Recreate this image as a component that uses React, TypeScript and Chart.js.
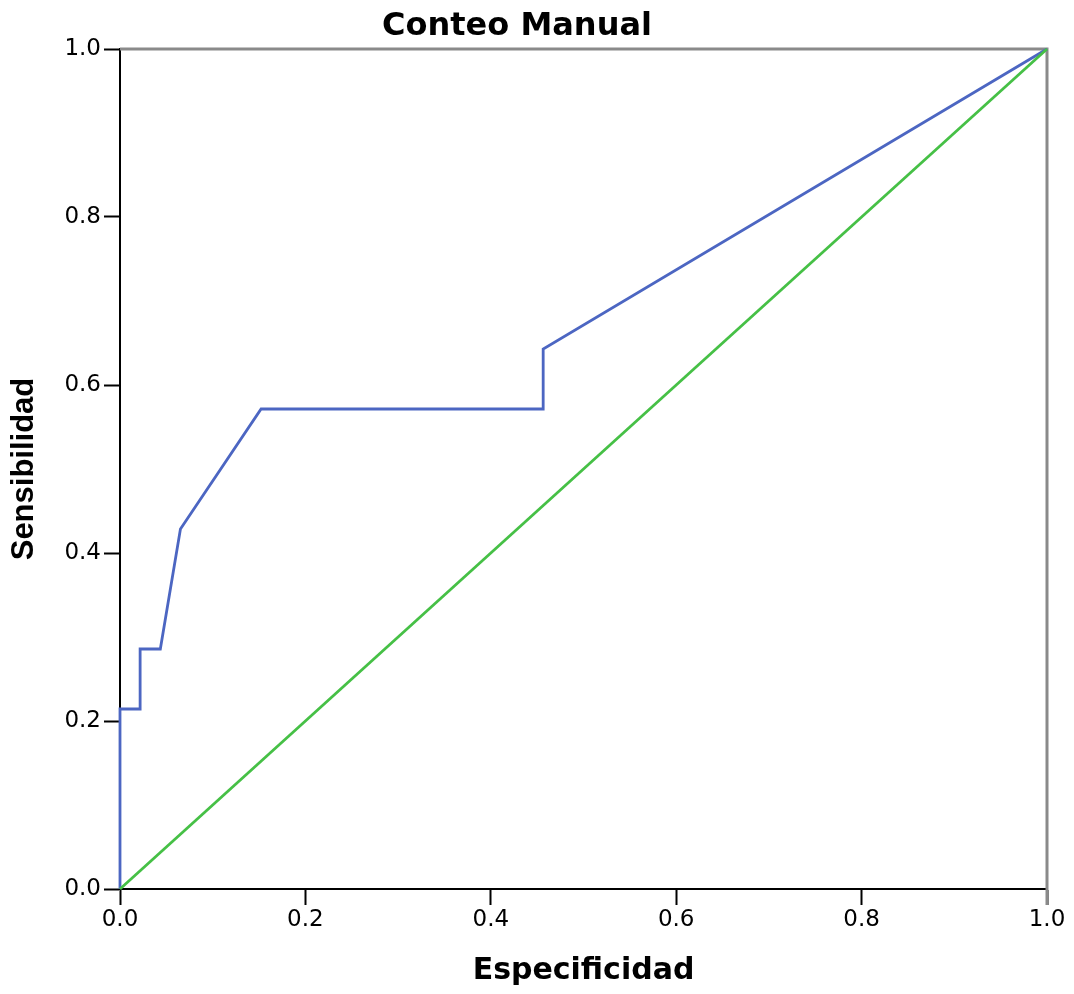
import React, { useEffect, useRef } from "react";
import { Chart, registerables } from "chart.js";

Chart.register(...registerables);

// ROC curve (1 - specificity on x, sensitivity on y)
const rocX = [0, 0, 0.0217, 0.0217, 0.0435, 0.0652, 0.1522, 0.4565, 0.4565, 1];
const rocY = [0, 0.2143, 0.2143, 0.2857, 0.2857, 0.4286, 0.5714, 0.5714, 0.6429, 1];
// reference diagonal
const diagX = [0, 1];
const diagY = [0, 1];
// axis ticks
const tickValues = [0, 0.2, 0.4, 0.6, 0.8, 1.0];
const tickLabels = ["0.0", "0.2", "0.4", "0.6", "0.8", "1.0"];

const chartTitle = "Conteo Manual";
const xTitle = "Especificidad";
const yTitle = "Sensibilidad";

const BLUE = "#4c66c2";
const GREEN = "#46c046";

const titlePlugin = {
  id: "manualTitle",
  afterDraw(chart: any) {
    const ctx = chart.ctx;
    ctx.save();
    ctx.font = 'bold 32px "DejaVu Sans", sans-serif';
    ctx.fillStyle = "#000";
    ctx.textAlign = "center";
    ctx.textBaseline = "middle";
    ctx.fillText(chartTitle, 517, 27);
    ctx.restore();
  },
};

const framePlugin = {
  id: "grayFrame",
  beforeDatasetsDraw(chart: any) {
    const { ctx, chartArea } = chart;
    const { left, right, top, bottom } = chartArea;
    ctx.save();
    ctx.strokeStyle = "#8a8a8a";
    ctx.lineWidth = 3;
    ctx.beginPath();
    ctx.moveTo(left, top);
    ctx.lineTo(right, top);
    ctx.lineTo(right, bottom + 16);
    ctx.stroke();
    ctx.restore();
  },
};

export default function App() {
  const canvasRef = useRef<HTMLCanvasElement | null>(null);

  useEffect(() => {
    const canvas = canvasRef.current;
    if (!canvas) return;
    const rocData = rocX.map((x, i) => ({ x, y: rocY[i] }));
    const diagData = diagX.map((x, i) => ({ x, y: diagY[i] }));
    const setTicks = (scale: any) => {
      scale.ticks = tickValues.map((v) => ({ value: v }));
    };
    const chart = new Chart(canvas, {
      type: "scatter",
      data: {
        datasets: [
          {
            data: diagData,
            showLine: true,
            borderColor: GREEN,
            borderWidth: 2.8,
            pointRadius: 0,
            tension: 0,
            clip: false as any,
          },
          {
            data: rocData,
            showLine: true,
            borderColor: BLUE,
            borderWidth: 2.8,
            pointRadius: 0,
            tension: 0,
            clip: false as any,
          },
        ],
      },
      options: {
        responsive: false,
        animation: false,
        devicePixelRatio: 1,
        layout: { padding: { left: 0, top: 49, right: 27, bottom: 0 } },
        plugins: {
          legend: { display: false },
          tooltip: { enabled: false },
          title: { display: false },
        },
        scales: {
          x: {
            type: "linear",
            min: 0,
            max: 1,
            afterBuildTicks: setTicks,
            afterFit: (scale: any) => {
              scale.height = 105;
            },
            ticks: {
              callback: (_v: any, i: number) => tickLabels[i],
              font: { family: "DejaVu Sans", size: 23 },
              color: "#000",
              padding: 1,
              maxRotation: 0,
              autoSkip: false,
            },
            grid: {
              drawOnChartArea: false,
              drawTicks: true,
              tickLength: 16,
              tickColor: "#000",
              tickWidth: 2,
            },
            border: { color: "#000", width: 2 },
            title: {
              display: true,
              text: xTitle,
              font: { family: "DejaVu Sans", size: 30, weight: "bold" },
              color: "#000",
              padding: { top: 0, bottom: 5 },
            },
          },
          y: {
            type: "linear",
            min: 0,
            max: 1,
            afterBuildTicks: setTicks,
            afterFit: (scale: any) => {
              scale.width = 120;
            },
            ticks: {
              callback: (_v: any, i: number) => tickLabels[i],
              font: { family: "DejaVu Sans", size: 23 },
              color: "#000",
              padding: 3,
              autoSkip: false,
            },
            grid: {
              drawOnChartArea: false,
              drawTicks: true,
              tickLength: 16,
              tickColor: "#000",
              tickWidth: 2,
            },
            border: { color: "#000", width: 2 },
            title: {
              display: true,
              text: yTitle,
              font: { family: "Liberation Sans", size: 31, weight: "bold" },
              color: "#000",
              padding: { top: 6, bottom: 0 },
            },
          },
        },
      },
      plugins: [framePlugin, titlePlugin],
    } as any);
    return () => chart.destroy();
  }, []);

  return (
    <div style={{ position: "absolute", left: 0, top: 0, width: 1074, height: 994, background: "#fff" }}>
      <canvas ref={canvasRef} width={1074} height={994} style={{ width: 1074, height: 994, display: "block" }} />
    </div>
  );
}
